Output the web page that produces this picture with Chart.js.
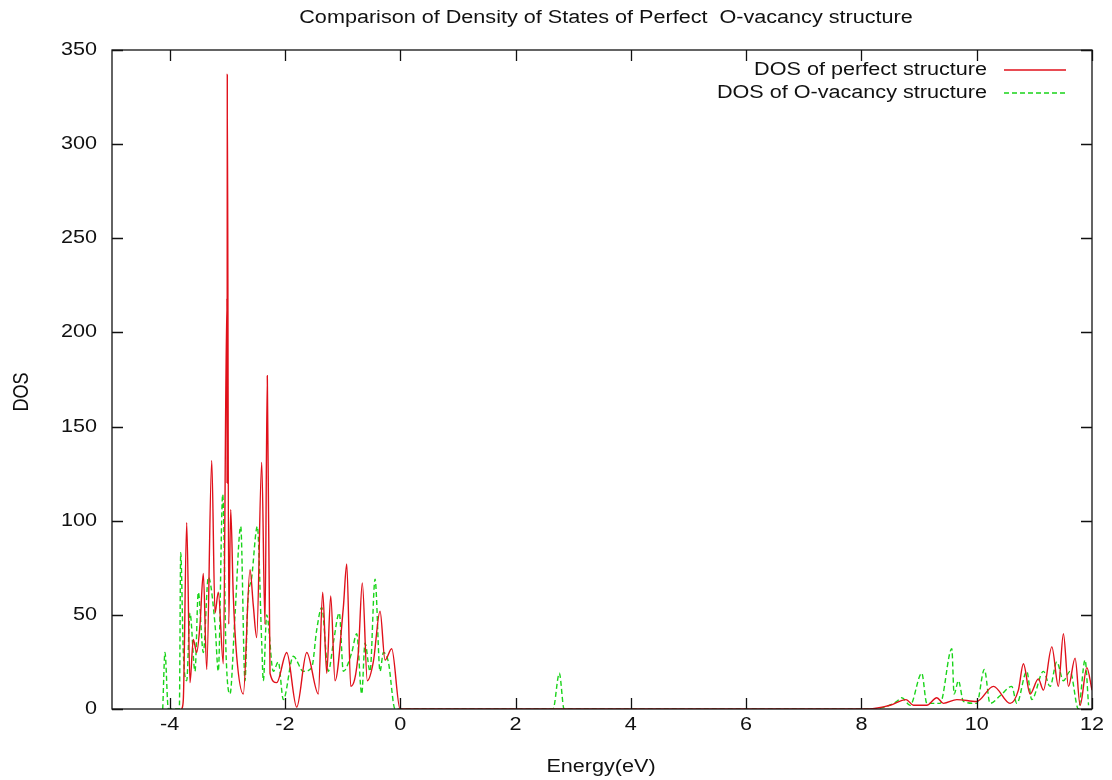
<!DOCTYPE html>
<html>
<head>
<meta charset="utf-8">
<script src="https://cdn.jsdelivr.net/npm/chart.js@4.4.1/dist/chart.umd.min.js"></script>
<style>
  html, body { margin: 0; padding: 0; background: #fff; }
  #wrap { width: 1112px; height: 780px; }
</style>
</head>
<body>
<div id="wrap"><canvas id="dosChart" width="1112" height="780"></canvas></div>
<script>

/* DATA */

const chartTitle = "Comparison of Density of States of Perfect  O-vacancy structure";
const xAxisTitle = "Energy(eV)";
const yAxisTitle = "DOS";
const seriesNames = ["DOS of perfect structure", "DOS of O-vacancy structure"];

const xTickValues = [-4, -2, 0, 2, 4, 6, 8, 10, 12];
const yTickValues = [0, 50, 100, 150, 200, 250, 300, 350];

const energyPerfect = [
    -3.79, -3.763, -3.704, -3.647, -3.59, -3.531, -3.473, -3.416, -3.357, -3.27,
    -3.213, -3.156, -3.069, -3.006, -3.003, -3.0, -2.975, -2.941, -2.896, -2.837,
    -2.722, -2.606, -2.549, -2.49, -2.403, -2.346, -2.306, -2.259, -2.143, -1.969,
    -1.796, -1.622, -1.421, -1.345, -1.275, -1.206, -1.131, -0.987, -0.928, -0.859,
    -0.727, -0.658, -0.571, -0.467, -0.35, -0.264, -0.148, -0.003,
    8.121, 8.498, 8.775, 8.902, 9.134, 9.308, 9.422, 9.655, 10.0, 10.29,
    10.579, 10.723, 10.81, 10.926, 11.07, 11.157, 11.303, 11.417, 11.504, 11.591,
    11.707, 11.794, 11.91, 12.0
];
const dosPerfect = [
    0, 5, 99, 14, 37, 30, 45, 72, 21, 132,
    51, 62, 24, 218, 120, 337, 45, 106, 60, 28,
    8, 74, 55, 38, 131, 45, 177, 19, 14, 30,
    1, 30, 8, 62, 19, 60, 15, 54, 77, 12,
    30, 67, 15, 25, 52, 26, 32, 0,
    0, 2, 5, 2, 2, 6, 3, 5, 4, 12,
    3, 10, 24, 8, 16, 10, 33, 12, 40, 12,
    27, 2, 22, 10
];

const energyVacancy = [
    -4.12, -4.081, -4.023, -3.832, -3.808, -3.763, -3.704, -3.647, -3.56, -3.503,
    -3.416, -3.329, -3.213, -3.156, -3.079, -3.022, -2.953, -2.866, -2.767, -2.693,
    -2.646, -2.576, -2.479, -2.403, -2.375, -2.316, -2.202, -2.115, -2.028, -1.855,
    -1.681, -1.535, -1.449, -1.362, -1.247, -1.161, -1.057, -0.987, -0.841, -0.755,
    -0.668, -0.611, -0.524, -0.437, -0.35, -0.293, -0.206, -0.09,
    2.651, 2.76, 2.842,
    8.1, 8.4, 8.614, 8.70, 8.844, 9.047, 9.134, 9.365, 9.568, 9.608,
    9.683, 9.77, 10.0, 10.133, 10.232, 10.405, 10.608, 10.695, 10.869, 10.955,
    11.157, 11.273, 11.389, 11.504, 11.62, 11.764, 11.88, 11.94
];
const dosVacancy = [
    0, 30, 0, 0, 83, 30, 15, 51, 20, 62,
    30, 70, 45, 20, 114, 30, 8, 50, 97, 15,
    56, 70, 97, 35, 15, 50, 20, 25, 5, 28,
    20, 22, 42, 54, 20, 35, 51, 20, 30, 40,
    8, 35, 20, 69, 20, 30, 25, 0,
    0, 19, 0,
    0, 1, 4, 6, 2, 19, 3, 3, 32, 8,
    15, 4, 3, 21, 3, 7, 12, 3, 20, 5,
    20, 12, 25, 15, 20, 0, 26, 2
];

/* HELPERS */

const FONT = '18px "Liberation Sans", Arial, sans-serif';
const STRETCH = 1.2;
const TEXT_COLOR = "#111";

function toPoints(xs, ys) {
    return xs.map((x, i) => ({ x: x, y: ys[i] }));
}

function stretchedText(ctx, text, x, y, align, rotate) {
    ctx.save();
    ctx.translate(x, y);
    ctx.scale(STRETCH, 1);
    if (rotate) ctx.rotate(-Math.PI / 2);
    ctx.font = FONT;
    ctx.fillStyle = TEXT_COLOR;
    ctx.textAlign = align;
    ctx.textBaseline = "middle";
    ctx.fillText(text, 0, 0);
    ctx.restore();
}

/* FRAME, TICKS, TEXT, KEY */

const gnuplotLook = {
    id: "gnuplotLook",
    afterDraw(chart) {
        const ctx = chart.ctx;
        const a = chart.chartArea;
        const xs = chart.scales.x;
        const ys = chart.scales.y;
        const tickLen = 11;

        ctx.save();
        ctx.strokeStyle = "#111";
        ctx.lineWidth = 1.3;
        ctx.strokeRect(a.left, a.top, a.right - a.left, a.bottom - a.top);

        ctx.beginPath();
        xTickValues.forEach(v => {
            const px = Math.round(xs.getPixelForValue(v)) + 0.5;
            ctx.moveTo(px, a.bottom); ctx.lineTo(px, a.bottom - tickLen);
            ctx.moveTo(px, a.top); ctx.lineTo(px, a.top + tickLen);
        });
        yTickValues.forEach(v => {
            const py = Math.round(ys.getPixelForValue(v)) + 0.5;
            ctx.moveTo(a.left, py); ctx.lineTo(a.left + tickLen, py);
            ctx.moveTo(a.right, py); ctx.lineTo(a.right - tickLen, py);
        });
        ctx.stroke();
        ctx.restore();

        xTickValues.forEach(v => {
            stretchedText(ctx, String(v), xs.getPixelForValue(v), a.bottom + 16, "center");
        });
        yTickValues.forEach(v => {
            stretchedText(ctx, String(v), a.left - 15, ys.getPixelForValue(v), "right");
        });

        stretchedText(ctx, chartTitle, 606, 18, "center");
        stretchedText(ctx, xAxisTitle, 601, 767, "center");
        stretchedText(ctx, yAxisTitle, 22, 392, "center", true);

        // key, top right inside the frame
        const keyRows = [70, 93];
        chart.data.datasets.forEach((ds, i) => {
            const y = keyRows[i];
            stretchedText(ctx, seriesNames[i], 987, y, "right");
            ctx.save();
            ctx.strokeStyle = ds.borderColor;
            ctx.lineWidth = 1.5;
            ctx.setLineDash(ds.borderDash || []);
            ctx.beginPath();
            ctx.moveTo(1004, y);
            ctx.lineTo(1066, y);
            ctx.stroke();
            ctx.restore();
        });
    }
};

/* CHART */

new Chart(document.getElementById("dosChart"), {
    type: "line",
    data: {
        datasets: [
            {
                label: seriesNames[0],
                data: toPoints(energyPerfect, dosPerfect),
                borderColor: "#e0101a",
                borderWidth: 1.4,
                pointRadius: 0,
                cubicInterpolationMode: "monotone",
                fill: false
            },
            {
                label: seriesNames[1],
                data: toPoints(energyVacancy, dosVacancy),
                borderColor: "#19d419",
                borderWidth: 1.4,
                borderDash: [5, 3],
                pointRadius: 0,
                cubicInterpolationMode: "monotone",
                fill: false
            }
        ]
    },
    options: {
        responsive: false,
        animation: false,
        layout: { padding: { left: 112, top: 50, right: 20, bottom: 71 } },
        plugins: {
            legend: { display: false },
            title: { display: false },
            tooltip: { enabled: false }
        },
        scales: {
            x: {
                type: "linear",
                min: -5,
                max: 12,
                grid: { display: false, drawTicks: false },
                border: { display: false },
                ticks: { display: false },
                afterFit: s => { s.height = 0; }
            },
            y: {
                type: "linear",
                min: 0,
                max: 350,
                grid: { display: false, drawTicks: false },
                border: { display: false },
                ticks: { display: false },
                afterFit: s => { s.width = 0; }
            }
        }
    },
    plugins: [gnuplotLook]
});

</script>
</body>
</html>
